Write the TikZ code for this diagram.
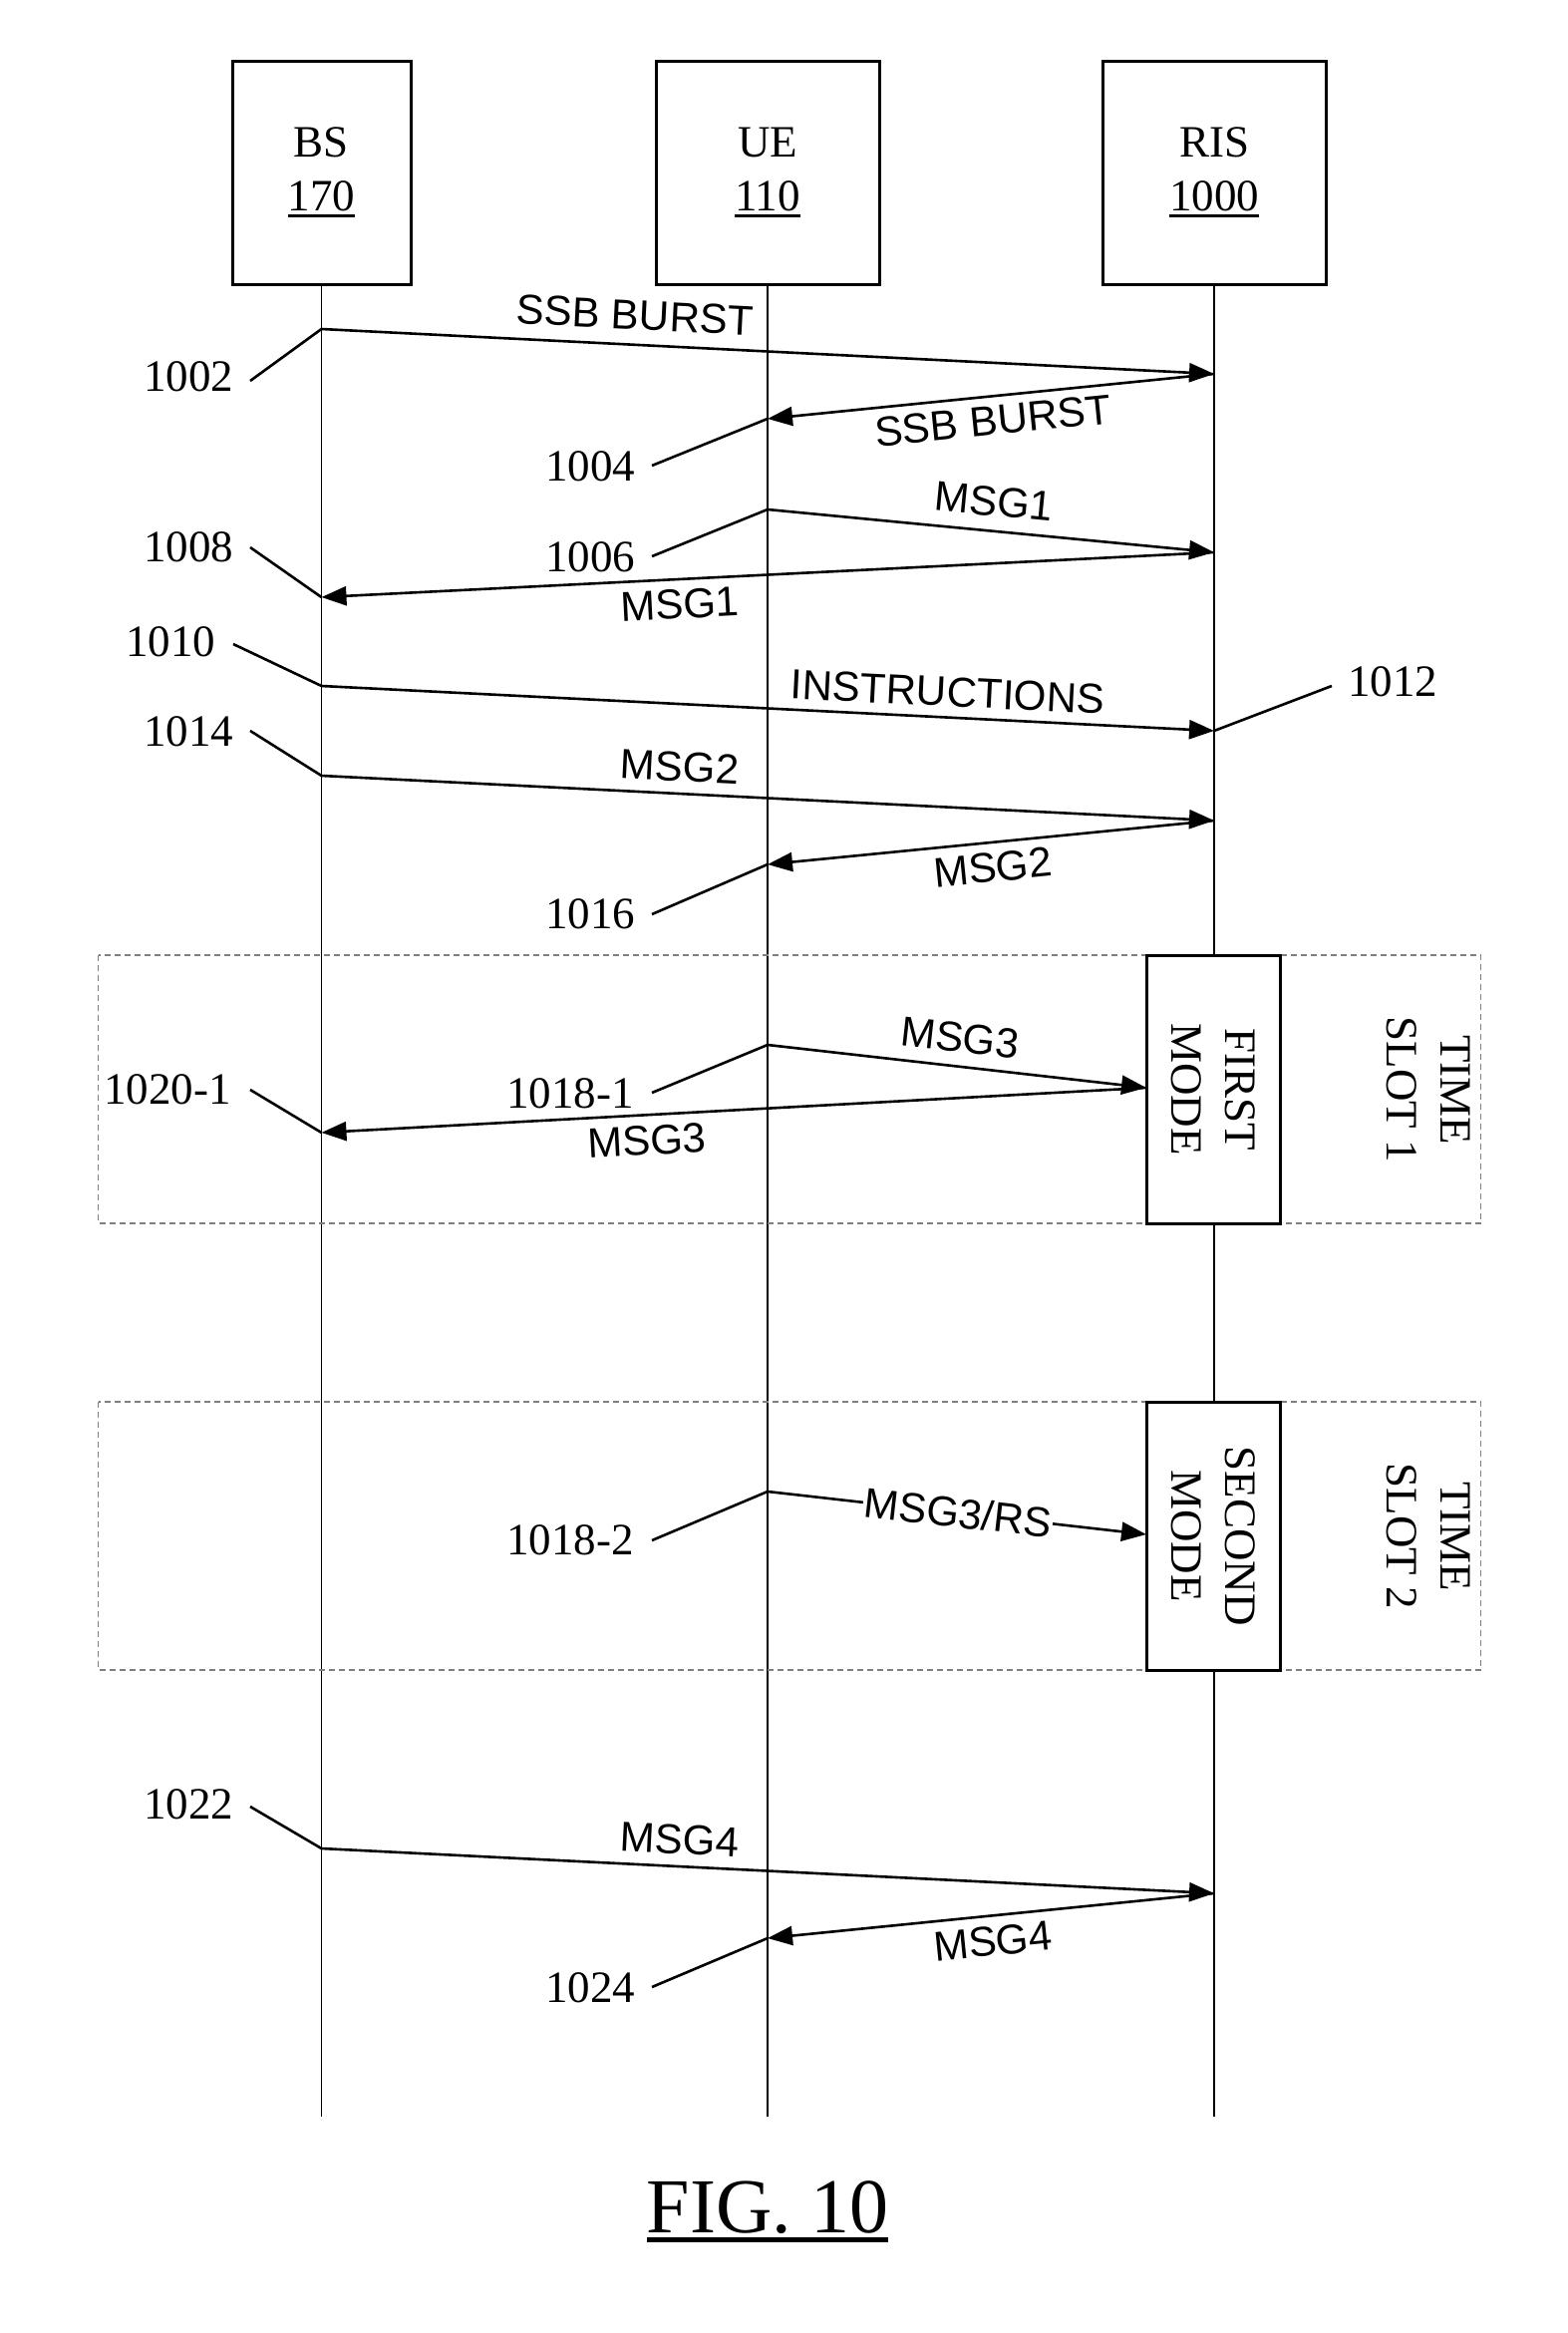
\documentclass[tikz,border=0pt]{standalone}
\usepackage{fontspec}
\setmainfont{Liberation Serif}
\setsansfont{Liberation Sans}
\usetikzlibrary{arrows.meta}
\newcommand\serifL{\rmfamily\fontsize{45}{54}\selectfont}
\newcommand\sansL{\sffamily\fontsize{42}{50}\selectfont}
\newcommand\figF{\rmfamily\fontsize{78}{90}\selectfont}
\newcommand\myul[3]{\setbox0\hbox{#1}\rlap{\raisebox{-#2}{\rule{\wd0}{#3}}}\box0}
\begin{document}
\begin{tikzpicture}[x=1pt,y=-1pt,
  entity/.style={draw, line width=3pt, minimum height=224pt, align=center, font=\serifL, inner sep=0pt, fill=white},
  life/.style={line width=1.5pt},
  msg/.style={line width=2.6pt, -{Triangle[length=25pt,width=19pt]}},
  lead/.style={line width=2.6pt},
  lbl/.style={font=\sansL, inner sep=2pt},
  num/.style={font=\serifL, inner sep=0pt},
  slotbox/.style={draw=gray, line width=1.4pt, dash pattern=on 6pt off 4pt},
  modebox/.style={draw, fill=white, line width=3pt, rotate=-90, minimum width=269pt, minimum height=134pt, inner sep=0pt, align=center, font=\serifL},
  vtext/.style={rotate=-90, align=center, font=\serifL, inner sep=0pt}]
\useasboundingbox (0,0) rectangle (1572,2340);

% entities
\node[entity, minimum width=179pt] (bs) at (322.5,173) {BS\\\myul{170}{7pt}{3pt}};
\node[entity, minimum width=224pt] (ue) at (770,173) {UE\\\myul{110}{7pt}{3pt}};
\node[entity, minimum width=224pt] (ris) at (1218,173) {RIS\\\myul{1000}{7pt}{3pt}};

% lifeline ends
\coordinate (bsend) at (322.5,2123);
\coordinate (ueend) at (770,2123);
\coordinate (risend) at (1218,2123);
\draw[life] (bs.south) -- (bsend);
\draw[life] (ue.south) -- (ueend);
\draw[life] (ris.south) -- (risend);

% time slots
\draw[slotbox] (98.5,958) rectangle (1485.5,1227);
\draw[slotbox] (98.5,1406) rectangle (1485.5,1675);
\node[modebox] (fm) at (1217,1092.5) {FIRST\\MODE};
\node[modebox] (sm) at (1217,1540.5) {SECOND\\MODE};
\node[vtext] (ts1) at (1433,1093) {TIME\\SLOT 1};
\node[vtext] (ts2) at (1433,1541) {TIME\\SLOT 2};

% message points
\coordinate (bA) at (322.5,330);  \coordinate (rA) at (1218,375);  \coordinate (uA) at (770,420);
\coordinate (uB) at (770,511);    \coordinate (rB) at (1218,554);  \coordinate (bB) at (322.5,599);
\coordinate (bC) at (322.5,688);  \coordinate (rC) at (1218,733);
\coordinate (bD) at (322.5,778);  \coordinate (rD) at (1218,823);  \coordinate (uD) at (770,867);
\coordinate (uE) at (770,1048);   \coordinate (fE) at (1150,1091); \coordinate (bE) at (322.5,1136);
\coordinate (uF) at (770,1496);   \coordinate (sF) at (1150,1539);
\coordinate (bG) at (322.5,1854); \coordinate (rG) at (1218,1899); \coordinate (uG) at (770,1944);

% messages
\draw[msg] (bA) -- (rA);
\draw[msg] (rA) -- (uA);
\draw[msg] (uB) -- (rB);
\draw[msg] (rB) -- (bB);
\draw[msg] (bC) -- (rC);
\draw[msg] (bD) -- (rD);
\draw[msg] (rD) -- (uD);
\draw[msg] (uE) -- (fE);
\draw[msg] (fE) -- (bE);
\draw[msg] (uF) -- (sF);
\draw[msg] (bG) -- (rG);
\draw[msg] (rG) -- (uG);

% message labels
\node[lbl, rotate=-2.9] (mA1) at (637,316) {SSB BURST};
\node[lbl, rotate=5.7] (mA2) at (996,422) {SSB BURST};
\node[lbl, rotate=-5.5] (mB1) at (997,503) {MSG1};
\node[lbl, rotate=2.9] (mB2) at (682,606) {MSG1};
\node[lbl, rotate=-2.9] (mC) at (951,694) {INSTRUCTIONS};
\node[lbl, rotate=-2.9] (mD1) at (682,769) {MSG2};
\node[lbl, rotate=5.7] (mD2) at (996,870) {MSG2};
\node[lbl, rotate=-6.4] (mE1) at (963,1041) {MSG3};
\node[lbl, rotate=3.1] (mE2) at (649,1144) {MSG3};
\node[lbl, rotate=-6.4, fill=white, inner sep=1pt] (mF) at (961,1517) {MSG3/RS};
\node[lbl, rotate=-2.9] (mG1) at (682,1845) {MSG4};
\node[lbl, rotate=5.7] (mG2) at (996,1947) {MSG4};

% reference numbers
\node[num] (n1002) at (189,378) {1002};
\node[num] (n1004) at (592,468) {1004};
\node[num] (n1006) at (592,559) {1006};
\node[num] (n1008) at (189,549) {1008};
\node[num] (n1010) at (171,644) {1010};
\node[num] (n1012) at (1397,684) {1012};
\node[num] (n1014) at (189,734) {1014};
\node[num] (n1016) at (592,917) {1016};
\node[num] (n10201) at (168,1093) {1020-1};
\node[num] (n10181) at (572,1097) {1018-1};
\node[num] (n10182) at (572,1545) {1018-2};
\node[num] (n1022) at (189,1810) {1022};
\node[num] (n1024) at (592,1994) {1024};

% leader starts
\coordinate (l1002) at (251,382);
\coordinate (l1004) at (654,467);
\coordinate (l1006) at (654,558);
\coordinate (l1008) at (251,549);
\coordinate (l1010) at (234,646);
\coordinate (l1012) at (1336,688);
\coordinate (l1014) at (251,733);
\coordinate (l1016) at (654,917);
\coordinate (l10201) at (251,1093);
\coordinate (l10181) at (654,1096);
\coordinate (l10182) at (654,1545);
\coordinate (l1022) at (251,1812);
\coordinate (l1024) at (654,1993);

\draw[lead] (l1002) -- (bA);
\draw[lead] (l1004) -- (uA);
\draw[lead] (l1006) -- (uB);
\draw[lead] (l1008) -- (bB);
\draw[lead] (l1010) -- (bC);
\draw[lead] (l1012) -- (rC);
\draw[lead] (l1014) -- (bD);
\draw[lead] (l1016) -- (uD);
\draw[lead] (l10201) -- (bE);
\draw[lead] (l10181) -- (uE);
\draw[lead] (l10182) -- (uF);
\draw[lead] (l1022) -- (bG);
\draw[lead] (l1024) -- (uG);

% figure caption
\node[font=\figF, inner sep=0pt, anchor=base] (fig) at (770,2239) {\myul{FIG. 10}{10pt}{5pt}};
\end{tikzpicture}
\end{document}
